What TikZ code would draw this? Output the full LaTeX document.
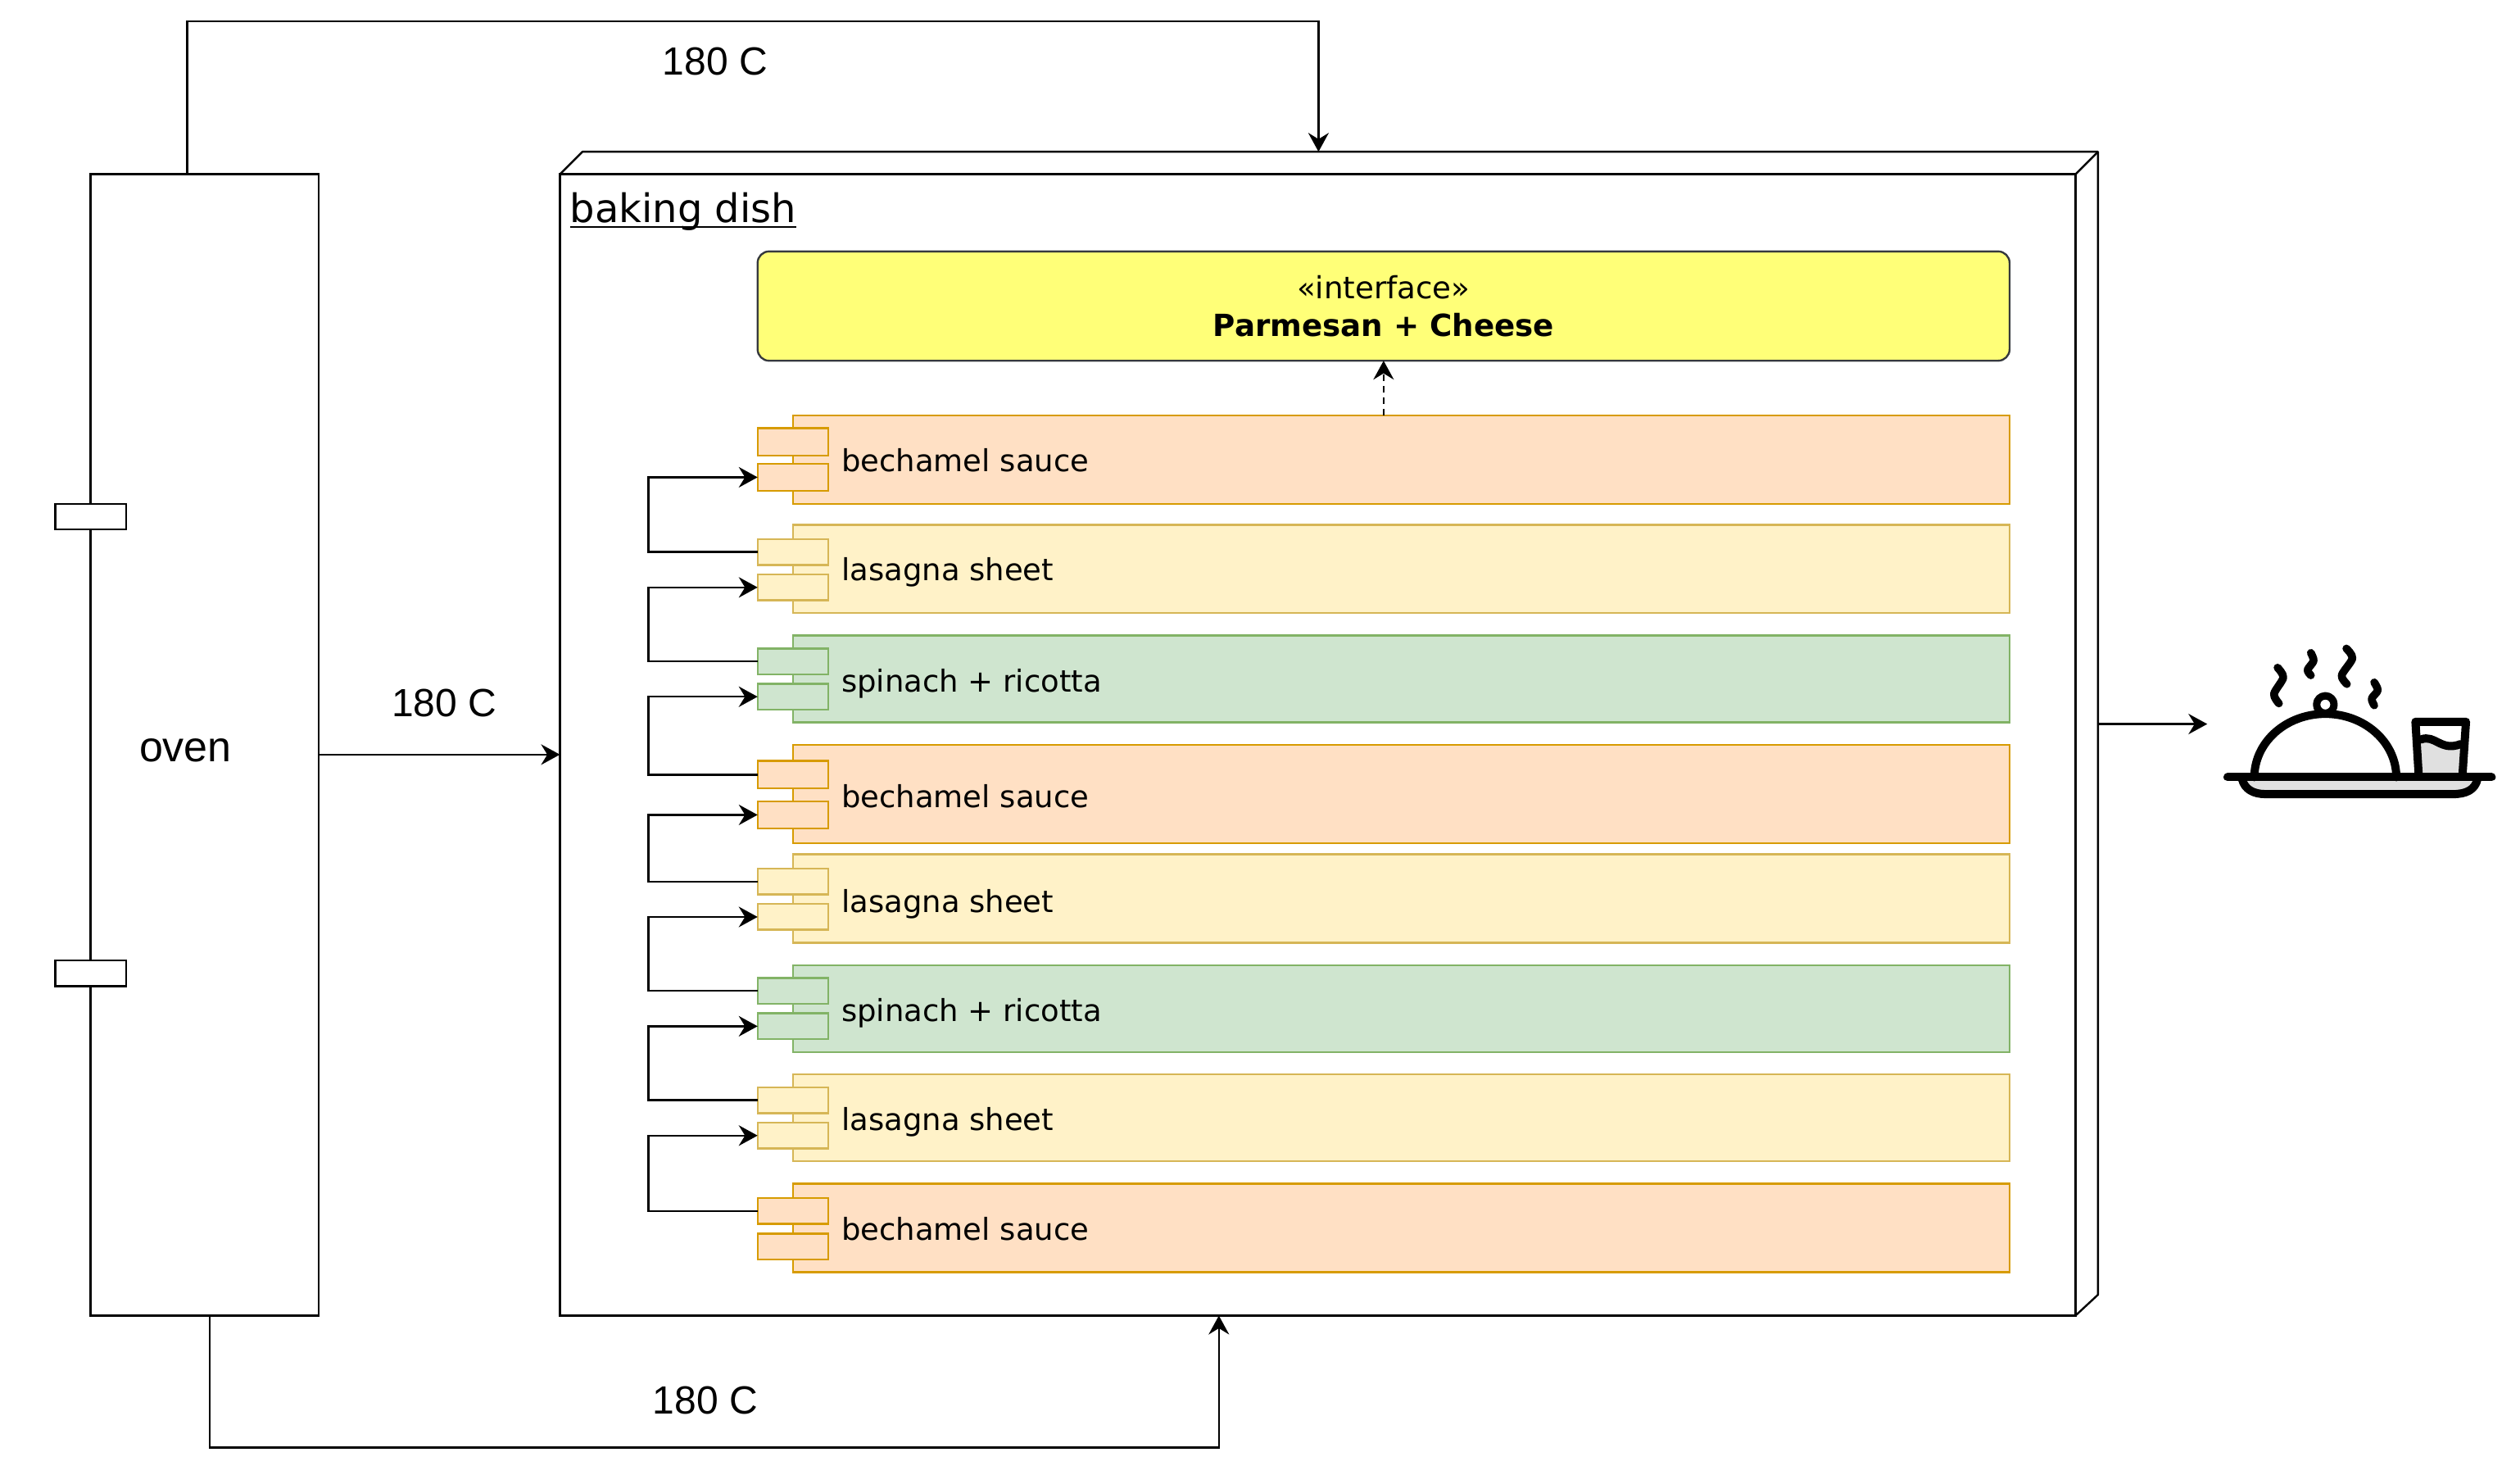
\documentclass[tikz,border=0pt]{standalone}
\usepackage{fontspec}
\setmainfont{DejaVu Sans}
\newfontfamily\helv{Liberation Sans}
\usetikzlibrary{arrows.meta,calc}
\definecolor{orfill}{HTML}{FFE0C4}
\definecolor{orline}{HTML}{D79B00}
\definecolor{yefill}{HTML}{FFF2C8}
\definecolor{yeline}{HTML}{D6B656}
\definecolor{grfill}{HTML}{CFE5CF}
\definecolor{grline}{HTML}{82B366}
\definecolor{ifill}{HTML}{FFFF78}
\definecolor{iline}{HTML}{36393D}
\definecolor{tray}{HTML}{E0E0E0}
\tikzset{
  plain/.style={draw=black,line width=1.2pt,fill=white,inner sep=0pt,outer sep=0pt},
  ghost/.style={inner sep=0pt,outer sep=0pt},
  orbox/.style={draw=orline,fill=orfill,line width=1.2pt,inner sep=0pt,outer sep=0pt},
  yebox/.style={draw=yeline,fill=yefill,line width=1.2pt,inner sep=0pt,outer sep=0pt},
  grbox/.style={draw=grline,fill=grfill,line width=1.2pt,inner sep=0pt,outer sep=0pt},
  ifbox/.style={draw=iline,fill=ifill,line width=1.2pt,inner sep=0pt,outer sep=0pt,rounded corners=7pt},
  conn/.style={draw=black,line width=1.2pt,-{Stealth[length=11.5pt,width=12.5pt,inset=3.8pt]}},
  rowtext/.style={anchor=base west,font=\fontsize{18.5}{22}\selectfont,inner sep=0pt},
  bigsans/.style={font=\helv\fontsize{24}{28}\selectfont,inner sep=0pt},
  icon/.style={draw=black,line width=5pt,line cap=round,line join=round},
  steam/.style={draw=black,line width=4.8pt,line cap=round,line join=round},
}
\newcommand{\placebox}[6]{%
  \pgfmathsetlengthmacro\bxw{((#5)-(#3))*0.9809pt}%
  \pgfmathsetlengthmacro\bxh{((#6)-(#4))*0.9809pt}%
  \node[#1,minimum width=\bxw,minimum height=\bxh,anchor=north west] (#2) at (#3,#4) {};}
% style, name, top, bottom, port a top, port b top, port height, text, baseline
\newcommand{\comp}[9]{%
  \placebox{#1}{#2}{493}{#3}{1250}{#4}%
  \placebox{#1}{#2-a}{471}{#5}{515}{#5+#7}%
  \placebox{#1}{#2-b}{471}{#6}{515}{#6+#7}%
  \node[rowtext] (#2-t) at (523,#9) {#8};}
\newcommand{\ulined}[1]{\setbox0=\hbox{#1}\rlap{\copy0}\rule[-3pt]{\wd0}{1pt}}
\begin{document}
\begin{tikzpicture}[x=0.9809pt,y=-0.9809pt]
\useasboundingbox (-0.4,-0.4) rectangle (1567.6,917.1);
% oven
\placebox{plain}{oven}{56}{108}{198}{818}
\placebox{plain}{portA}{34}{313}{78}{329}
\placebox{plain}{portB}{34}{597}{78}{613}
\node[font=\helv\fontsize{26}{30}\selectfont,inner sep=0pt] (ovenlabel) at (115,466.5) {oven};
% baking dish
\draw[line width=1.2pt,line join=bevel] (348,108) -- (362,94) -- (1305,94) -- (1305,805) -- (1291,818);
\draw[line width=1.2pt] (1291,108) -- (1305,94);
\placebox{ghost}{dishall}{348}{94}{1305}{818}
\placebox{plain}{dish}{348}{108}{1291}{818}
\node[anchor=base west,inner sep=0pt,font=\fontsize{24}{28}\selectfont] (dishlabel) at (354,138) {\ulined{baking dish}};
% interface
\placebox{ifbox}{iface}{471}{156}{1250}{224}
\node[anchor=center,align=center,inner sep=0pt,font=\fontsize{18.6}{23}\selectfont] (ifacelabel) at (860.5,190) {«interface»\\\textbf{Parmesan + Cheese}};
% layers
\comp{orbox}{r1}{258}{313}{266}{288}{17}{bechamel sauce}{293}
\comp{yebox}{r2}{326}{381}{335}{357}{16}{lasagna sheet}{361}
\comp{grbox}{r3}{395}{449}{403}{425}{16}{spinach + ricotta}{430}
\comp{orbox}{r4}{463}{524}{473}{498}{17}{bechamel sauce}{502}
\comp{yebox}{r5}{531}{586}{540}{562}{16}{lasagna sheet}{567}
\comp{grbox}{r6}{600}{654}{608}{630}{16}{spinach + ricotta}{635}
\comp{yebox}{r7}{668}{722}{676}{698}{16}{lasagna sheet}{703}
\comp{orbox}{r8}{736}{791}{745}{767}{16}{bechamel sauce}{771}
% layer connectors
\draw[conn] (r2-a.west) -- ++(-68,0) |- (r1-b.west);
\draw[conn] (r3-a.west) -- ++(-68,0) |- (r2-b.west);
\draw[conn] (r4-a.west) -- ++(-68,0) |- (r3-b.west);
\draw[conn] (r5-a.west) -- ++(-68,0) |- (r4-b.west);
\draw[conn] (r6-a.west) -- ++(-68,0) |- (r5-b.west);
\draw[conn] (r7-a.west) -- ++(-68,0) |- (r6-b.west);
\draw[conn] (r8-a.west) -- ++(-68,0) |- (r7-b.west);
\draw[conn,dashed,dash pattern=on 4pt off 3pt] (r1.north -| iface.south) -- (iface.south);
% oven connectors
\coordinate (topturn) at (116,13);
\coordinate (topend) at (820,94);
\coordinate (botturn) at (130,900);
\coordinate (botend) at (758,818);
\coordinate (midy) at (198,469);
\coordinate (outy) at (1305,450);
\coordinate (outend) at (1373,450);
\draw[conn] (oven.north -| topturn) -- (topturn) -| (dishall.north -| topend);
\draw[conn] (oven.south -| botturn) -- (botturn) -| (dish.south -| botend);
\draw[conn] (midy) -- (dish.west |- midy);
\draw[conn] (outy) -- (outend);
\node[bigsans] (t1) at (444.5,38) {180 C};
\node[bigsans] (t2) at (276,437) {180 C};
\node[bigsans] (t3) at (438.5,871) {180 C};
% served dish icon
\begin{scope}[shift={(1350.8,387.4)},x=0.16667pt,y=-0.16667pt]
  \filldraw[icon,fill=tray] (258,570) .. controls (268,608) and (300,625) .. (345,625) -- (1030,625) .. controls (1080,625) and (1112,608) .. (1120,570);
  \fill[tray] (913,425) .. controls (965,405) and (985,470) .. (1058,442) -- (1052,555) -- (918,555) -- cycle;
  \draw[icon] (913,425) .. controls (965,405) and (985,470) .. (1058,442);
  \draw[icon] (905,558) -- (893,360) -- (1078,360) -- (1065,558);
  \draw[icon] plot[smooth,samples=40,domain=180:0] ({563+260*cos(\x)},{563-232*sin(\x)});
  \draw[icon,line width=4.5pt,fill=white] (563,297) circle (32);
  \draw[icon] (205,563) -- (1172,563);
  \draw[steam] plot[smooth] coordinates {(388,162) (409,198) (375,258) (393,293)};
  \draw[steam] plot[smooth] coordinates {(510,108) (520,137) (498,170) (510,190)};
  \draw[steam] plot[smooth] coordinates {(640,92) (662,128) (623,190) (642,222)};
  \draw[steam] plot[smooth] coordinates {(742,216) (755,245) (733,275) (742,300)};
\end{scope}
\end{tikzpicture}
\end{document}
